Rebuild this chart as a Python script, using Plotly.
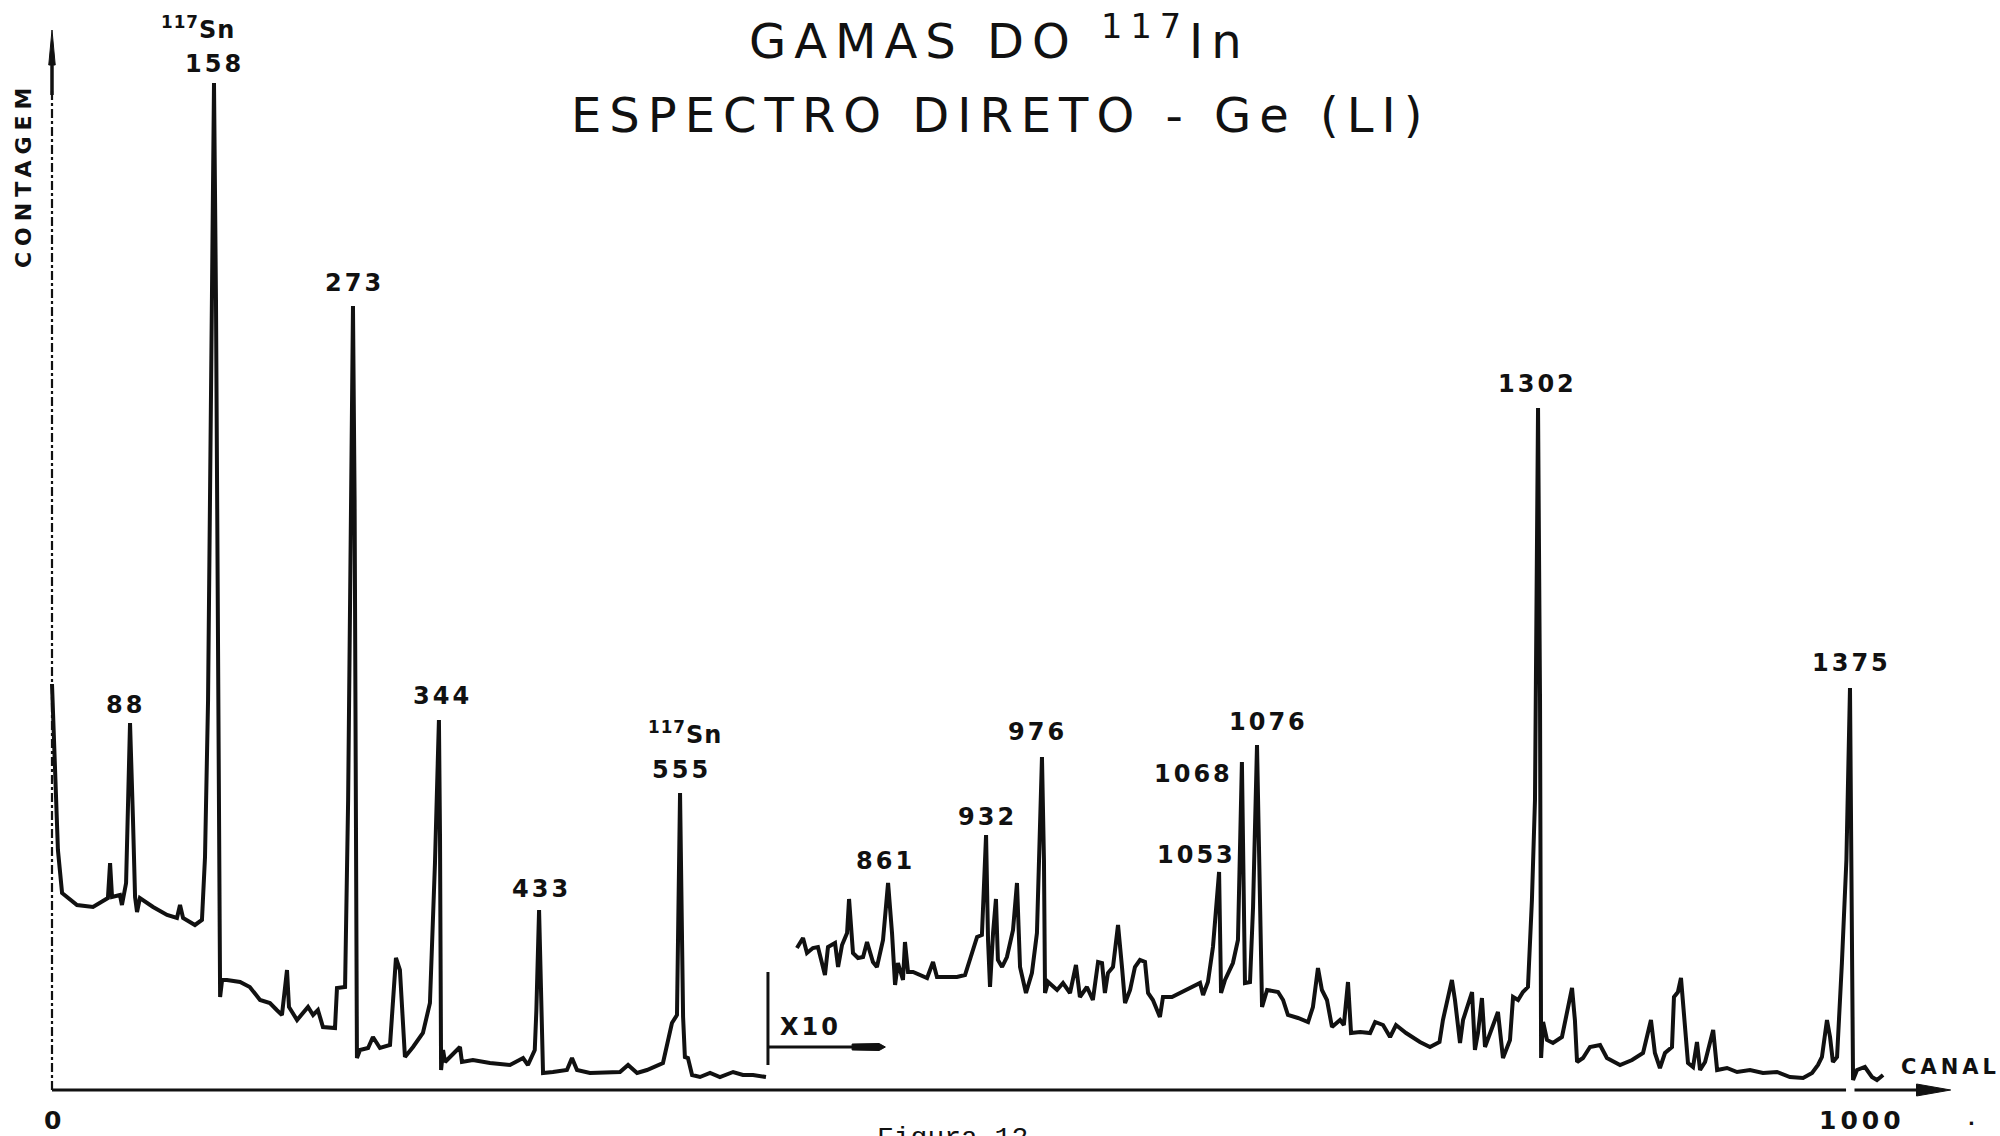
import numpy as np
import plotly.graph_objects as go

# ---- spectrum, direct scale (channels 0-397) ----
canal_a = [0, 3.3, 5.6, 13.9, 22.8, 26.7, 31.1, 32.3, 33.4, 37.8, 38.9, 41.2, 42.3, 43.4, 45.0,
           46.2, 47.3, 48.9, 56.2, 64.0, 69.5, 71.2, 72.9, 79.5, 83.4, 85.1, 86.8, 88.4, 90.1,
           91.2, 92.3, 93.5, 94.6, 97.3, 104.6, 110.0, 115.7, 121.2, 125.0, 127.9, 130.7, 131.8,
           136.3, 139.6, 142.4, 145.2, 147.9, 150.7, 157.4, 158.5, 163.0, 164.7, 166.3, 167.4,
           168.3, 169.1, 169.6, 171.3, 175.8, 178.5, 182.4, 188.0, 191.3, 193.5, 196.3, 200.8,
           206.3, 210.2, 213.0, 215.2, 215.8, 216.4, 217.5, 218.6, 226.9, 228.0, 234.1, 243.6,
           254.7, 262.0, 264.7, 268.5, 269.4, 270.9, 272.0, 273.1, 278.6, 286.4, 289.2, 292.0,
           299.2, 308.7, 315.9, 320.4, 325.4, 330.9, 334.3, 339.8, 344.8, 347.6, 349.3, 351.0,
           352.0, 353.7, 356.0, 360.4, 366.0, 371.5, 378.8, 384.3, 389.9, 397.1]
contagem_a = [406, 240, 197, 185, 183, 187, 192, 227, 193, 195, 185, 207, 273, 367, 273,
              193, 178, 192, 183, 175, 172, 185, 172, 165, 170, 233, 390, 690, 1007,
              790, 390, 93, 110, 110, 108, 103, 90, 87, 80, 75, 120, 83,
              70, 77, 83, 75, 80, 63, 62, 102, 103, 290, 590, 784,
              590, 290, 32, 40, 42, 53, 42, 45, 132, 120, 33, 43,
              57, 87, 227, 370, 253, 20, 40, 28, 43, 28, 30, 27,
              25, 32, 25, 40, 80, 180, 80, 17, 18, 20, 32, 20,
              17, 17, 18, 25, 17, 20, 23, 27, 67, 75, 297, 73,
              33, 32, 15, 13, 17, 13, 18, 15, 15, 13]

# ---- spectrum, expanded x10 (channels 414-1018) ----
canal_b = [414.3, 417.7, 419.9, 423.2, 426.0, 429.9, 431.6, 435.5, 437.2, 439.4, 442.2, 443.3,
           445.5, 448.3, 451.1, 453.3, 456.6, 458.8, 462.2, 465.0, 467.2, 468.9, 470.5, 473.3,
           474.4, 476.1, 478.9, 482.8, 486.7, 490.0, 492.2, 497.8, 503.3, 507.8, 510.6, 514.5,
           517.2, 519.5, 520.6, 521.7, 523.4, 525.0, 526.1, 528.4, 531.1, 534.5, 536.7, 538.4,
           541.7, 545.0, 547.8, 549.0, 550.6, 551.7, 552.3, 554.0, 559.0, 562.3, 566.2, 569.5,
           571.7, 575.6, 578.9, 581.8, 584.0, 585.6, 587.3, 590.1, 592.9, 595.1, 596.8, 599.6,
           602.3, 605.1, 607.9, 609.6, 612.3, 616.2, 617.9, 622.9, 627.4, 632.9, 638.5, 640.2,
           642.9, 645.7, 649.1, 650.2, 652.4, 656.8, 659.6, 661.8, 663.5, 666.3, 668.0, 670.2,
           671.9, 673.0, 675.8, 681.9, 684.7, 687.4, 693.0, 698.6, 701.3, 704.1, 706.3, 709.1,
           711.9, 716.4, 718.5, 720.8, 722.5, 727.6, 733.1, 735.9, 740.3, 744.2, 747.5, 753.1,
           760.8, 766.4, 771.7, 773.6, 778.6, 780.3, 783.1, 784.8, 789.8, 791.4, 793.1, 795.3,
           797.0, 799.8, 804.2, 807.0, 810.9, 812.6, 815.4, 818.1, 820.9, 823.1, 824.8, 826.5,
           827.6, 828.2, 829.3, 831.5, 834.8, 839.8, 842.6, 845.4, 847.0, 848.2, 851.5, 855.4,
           861.0, 864.8, 872.1, 878.8, 884.9, 887.7, 889.3, 891.5, 894.3, 897.1, 901.0, 902.1,
           904.3, 906.0, 907.1, 909.9, 912.7, 914.9, 916.6, 919.4, 923.9, 926.1, 931.6, 937.2,
           944.4, 951.6, 959.4, 966.6, 973.9, 978.9, 982.2, 984.4, 987.2, 988.9, 990.5, 992.8,
           995.5, 996.7, 998.0, 1000.0, 1001.0, 1001.7, 1003.9, 1008.3, 1012.2, 1015.0, 1018.4]
contagem_b = [142, 152, 137, 142, 143, 115, 143, 147, 123, 145, 157, 191,
              137, 132, 133, 148, 128, 123, 150, 207, 157, 105, 127, 110,
              148, 118, 118, 115, 112, 128, 113, 113, 113, 115, 132, 153,
              155, 255, 150, 103, 157, 191, 130, 123, 133, 160, 207, 123,
              97, 117, 157, 230, 333, 230, 97, 108, 100, 107, 97, 125,
              93, 103, 90, 128, 127, 97, 117, 123, 165, 123, 87, 100,
              123, 130, 128, 97, 90, 73, 93, 93, 97, 103, 107, 95,
              108, 143, 218, 97, 110, 127, 150, 328, 107, 108, 183, 345,
              190, 83, 100, 98, 90, 75, 72, 68, 83, 122, 100, 90,
              63, 70, 65, 108, 57, 58, 57, 68, 65, 53, 65, 57,
              48, 43, 48, 70, 110, 90, 47, 70, 98, 40, 57, 92,
              43, 57, 78, 32, 50, 93, 90, 98, 103, 190, 290, 682,
              390, 32, 68, 50, 47, 53, 77, 102, 70, 28, 32, 43,
              45, 32, 25, 30, 37, 60, 70, 37, 22, 37, 43, 93,
              98, 112, 90, 27, 23, 48, 20, 28, 60, 20, 22, 18,
              20, 17, 18, 13, 12, 17, 25, 33, 70, 53, 28, 33,
              127, 177, 230, 402, 200, 10, 20, 23, 13, 10, 15]

# ---- identified gamma lines (keV) and the channel of each peak ----
energias = ["88", "158", "273", "344", "433", "555", "861", "932", "976",
            "1053", "1068", "1076", "1302", "1375"]
canais_pico = [43.4, 90.1, 167.4, 215.2, 270.9, 349.3, 465.0, 519.5, 550.6,
               649.1, 661.8, 670.2, 826.5, 1000.0]
picos_sn = ["158", "555"]  # lines from the 117Sn daughter

# label offsets from the peak tip, in pixels (dx right, dy up)
desloc = {"88": (-5, 18), "158": (0, 19), "273": (2, 23), "344": (4, 24), "433": (2, 21),
          "555": (1, 23), "861": (-3, 22), "932": (1, 18), "976": (-4, 25),
          "1053": (-23, 17), "1068": (-48, -12), "1076": (11, 23), "1302": (-1, 24),
          "1375": (2, 25)}

INK = "#111111"
FONT = "DejaVu Sans"

canal_all = np.array(canal_a + canal_b)
cont_all = np.array(contagem_a + contagem_b)


def topo(ch):
    i = int(np.argmin(np.abs(canal_all - ch)))
    return float(canal_all[i]), float(cont_all[i])


fig = go.Figure()
for cx, cy in ((canal_a, contagem_a), (canal_b, contagem_b)):
    fig.add_trace(go.Scatter(x=cx, y=cy, mode="lines",
                             line=dict(color=INK, width=4),
                             hoverinfo="skip", showlegend=False))

shapes = []
# x axis with a break at channel 1000 and an arrow
shapes.append(dict(type="line", x0=0, y0=0, x1=997.8, y1=0, line=dict(color=INK, width=3)))
shapes.append(dict(type="line", x0=1002.5, y0=0, x1=1045, y1=0, line=dict(color=INK, width=3)))
shapes.append(dict(type="path", path="M 1037,-6 L 1056,0 L 1037,6 Z",
                   fillcolor=INK, line=dict(color=INK, width=1)))
# y axis (dash-dot) with arrow
shapes.append(dict(type="line", x0=0, y0=0, x1=0, y1=1000,
                   line=dict(color=INK, width=2.2, dash="dashdot")))
shapes.append(dict(type="line", x0=0, y0=995, x1=0, y1=1035, line=dict(color=INK, width=3.5)))
shapes.append(dict(type="path", path="M -1.8,1025 L 0,1060 L 1.8,1025 Z",
                   fillcolor=INK, line=dict(color=INK, width=1)))
# x10 scale change marker
shapes.append(dict(type="line", x0=398.2, y0=25, x1=398.2, y1=118, line=dict(color=INK, width=3)))
shapes.append(dict(type="line", x0=398.2, y0=43, x1=450, y1=43, line=dict(color=INK, width=3)))
shapes.append(dict(type="path", path="M 445,40 L 460,39.5 L 463.5,43 L 460,46.5 L 445,46 Z",
                   fillcolor=INK, line=dict(color=INK, width=1)))

ann = []


def txt(x, y, text, size, **kw):
    d = dict(x=x, y=y, text=text, showarrow=False,
             font=dict(family=kw.pop("family", FONT), size=size, color=INK,
                       weight=kw.pop("weight", "normal")))
    d.update(kw)
    ann.append(d)


# peak labels, attached to the peak tips
for e, c in zip(energias, canais_pico):
    px, py = topo(c)
    dx, dy = desloc[e]
    txt(px, py, f'<span style="letter-spacing:3px">{e}</span>', 24, weight="bold",
        xshift=dx, yshift=dy, xanchor="center", yanchor="middle")
    if e in picos_sn:
        txt(px, py, '<span style="letter-spacing:1px"><sup>117</sup>Sn</span>', 24, weight="bold",
            xshift=dx - (16 if e == "158" else -4), yshift=dy + (36 if e == "158" else 37),
            xanchor="center", yanchor="middle")

# title
txt(526.7, 1052, '<span style="letter-spacing:8px">GAMAS DO <sup>117</sup>In</span>', 48,
    xanchor="center", yanchor="middle")
txt(527.6, 975, '<span style="letter-spacing:8px">ESPECTRO DIRETO - Ge (LI)</span>', 48,
    xanchor="center", yanchor="middle")

# axis captions and ticks
txt(-16.1, 915, '<span style="letter-spacing:6px">CONTAGEM</span>', 22, weight="bold",
    textangle=-90, xanchor="center", yanchor="middle")
txt(1056.1, 23, '<span style="letter-spacing:4px">CANAL</span>', 21, weight="bold",
    xanchor="center", yanchor="middle")
txt(422.1, 63, '<span style="letter-spacing:3px">X10</span>', 24, weight="bold",
    xanchor="center", yanchor="middle")
txt(0, -30, "0", 25, weight="bold", xanchor="center", yanchor="middle")
txt(1006.7, -30, '<span style="letter-spacing:4px">1000</span>', 25, weight="bold",
    xanchor="center", yanchor="middle")
txt(1067.3, -28, ".", 18, weight="bold", xanchor="center", yanchor="middle")
txt(501, -31, "Figura 12", 28, family="Liberation Mono", xanchor="center", yanchor="top")

fig.update_layout(
    width=2000, height=1136,
    margin=dict(l=0, r=0, t=0, b=0),
    paper_bgcolor="white", plot_bgcolor="white",
    showlegend=False,
    xaxis=dict(range=[-28.92, 1083.43], visible=False, fixedrange=True),
    yaxis=dict(range=[-46, 1090], visible=False, fixedrange=True),
    shapes=shapes, annotations=ann,
)

fig.write_html("out.html")
